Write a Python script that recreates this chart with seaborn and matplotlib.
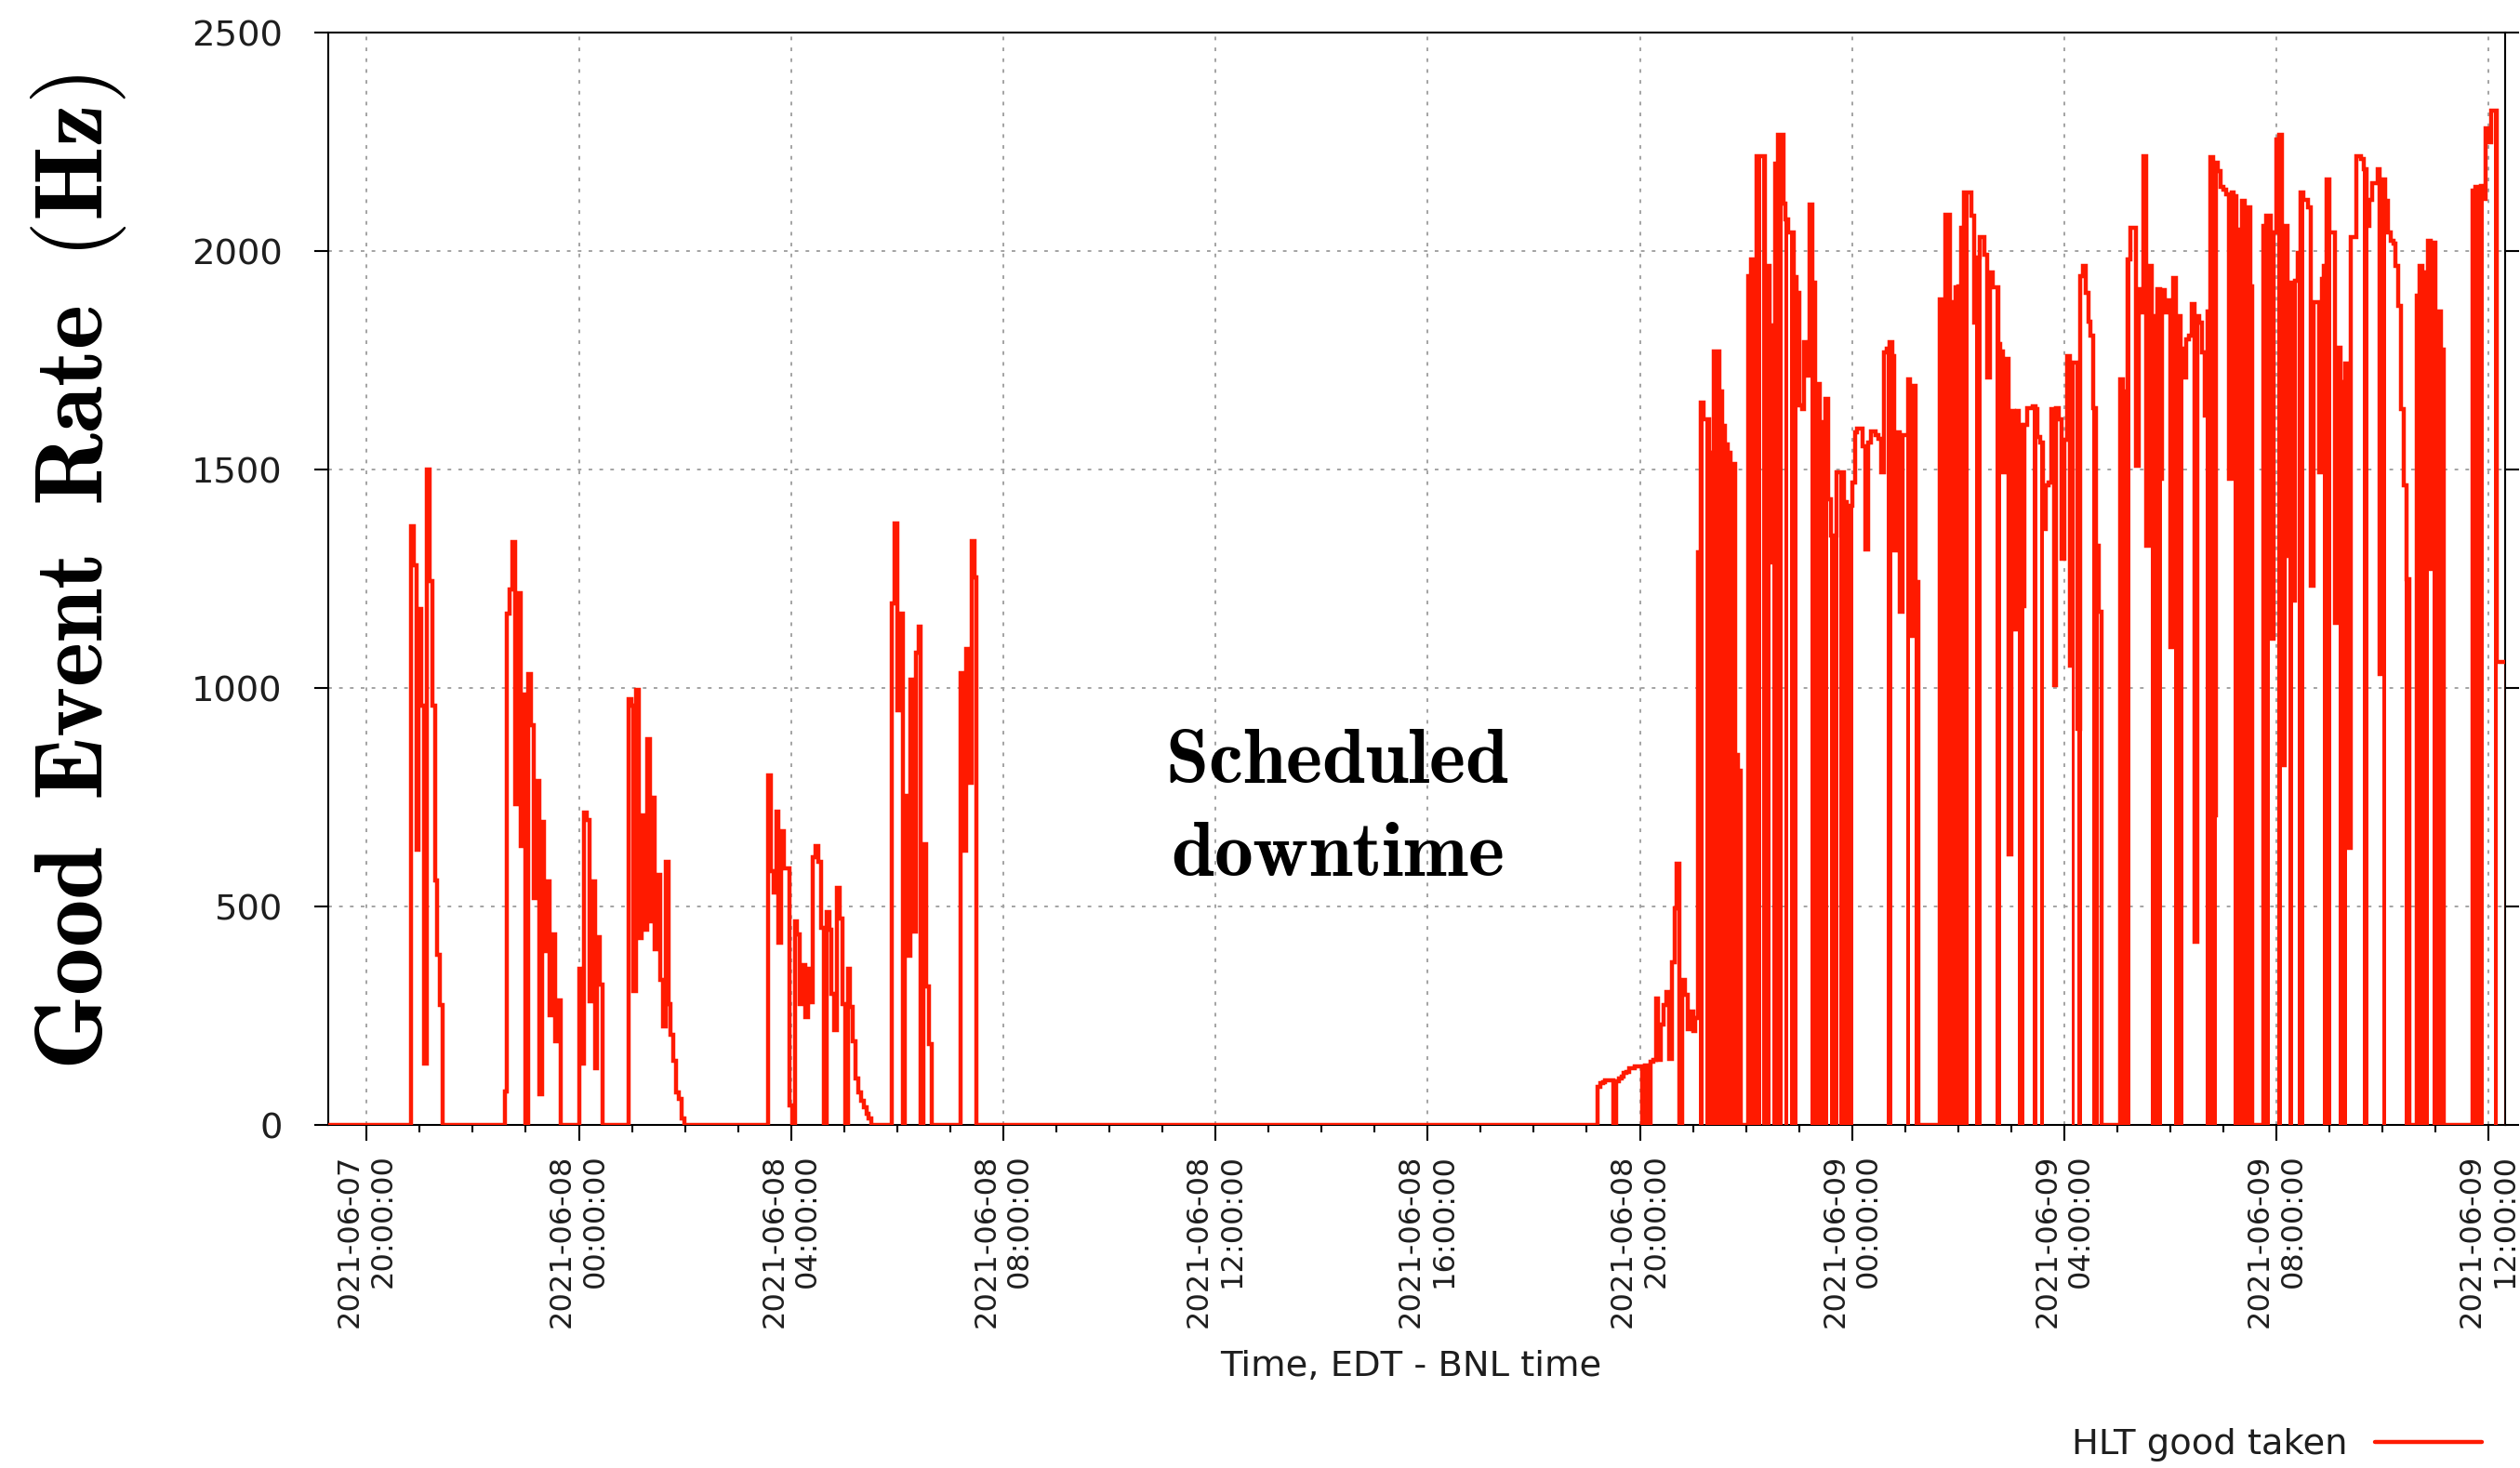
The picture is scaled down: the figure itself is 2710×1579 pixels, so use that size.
import numpy as np
import pandas as pd
import matplotlib
matplotlib.use("Agg")
import matplotlib.pyplot as plt
import matplotlib.dates as mdates
from matplotlib.lines import Line2D
import seaborn as sns

# ---------------------------------------------------------------------------
# HLT good-event rate (Hz), one value per 3-minute sample, grouped by run.
# Outside the listed runs the rate is zero.
# ---------------------------------------------------------------------------
SAMPLE_MINUTES = 3
view_start = "2021-06-07 19:16:34"
view_end = "2021-06-09 12:18:36"

# Night of 2021-06-07 / morning of 2021-06-08
burst_a_start = "2021-06-07 20:50"
burst_a_rate = [1370, 1280, 630, 1180, 960, 140, 1500, 1245, 960, 560, 390, 275]

burst_b_start = "2021-06-07 22:36"
burst_b_rate = [77, 1170, 1226, 1333, 733, 1217, 638, 985, 0, 1032, 914, 520,
                788, 70, 693, 397, 557, 251, 437, 191, 286]

burst_c_start = "2021-06-08 00:00"
burst_c_rate = [357, 141, 715, 698, 283, 557, 130, 429, 321]

burst_d_start = "2021-06-08 00:56"
burst_d_rate = [975, 960, 306, 995, 427, 708, 447, 884, 467, 748, 402, 573,
                332, 226, 603, 276, 206, 146, 75, 60, 15]

burst_e_start = "2021-06-08 03:34"
burst_e_rate = [801, 581, 532, 718, 417, 673, 588, 588, 45, 0, 467, 437, 276,
                367, 246, 357, 281, 613, 638, 603, 452, 0, 487, 447, 301, 216,
                543, 472, 276, 0, 357, 271, 191, 106, 75, 55, 40, 25, 15]

burst_f_start = "2021-06-08 05:54"
burst_f_rate = [1194, 1376, 949, 1170, 0, 754, 387, 1020, 442, 1080, 1141, 0,
                643, 316, 186]

burst_g_start = "2021-06-08 07:12"
burst_g_rate = [1035, 628, 1090, 784, 1336, 1254]

# After the scheduled downtime
run_1_start = "2021-06-08 19:12"
run_1_rate = [
    # 19:12 - 21:03  ramp-up
    88, 95, 97, 102, 102, 102, 0, 99, 107, 110, 119, 122, 130, 130, 133, 133,
    133, 0, 137, 0, 145, 148, 290, 150, 229, 274, 305, 152, 373, 495, 597, 0,
    332, 297, 220, 259, 215, 244,
    # 21:06 - 21:51
    1310, 1654, 1615, 1615, 1539, 1326, 1771, 1771, 1679, 1600, 1557, 1539,
    1513, 1513, 846, 810,
    # 21:54 - 22:00
    0, 0, 0,
    # 22:03 - 22:57
    1943, 1981, 1981, 2217, 2217, 2217, 1966, 1966, 1829, 1288, 2199, 2266,
    2266, 2108, 2073, 2042, 2042, 1940, 1905,
    # 23:00 - 23:57
    1646, 1638, 1791, 1714, 2106, 1928, 1696, 1696, 1608, 1608, 1661, 1432,
    1349, 1349, 1494, 1494, 1494, 1425, 1417, 1417,
    # 00:00 - 01:12
    1471, 1585, 1593, 1593, 1554, 1318, 1562, 1588, 1588, 1578, 1570, 1494,
    1768, 1776, 1791, 1760, 1314, 1585, 1174, 1578, 1578, 1707, 1120, 1692,
    1242,
]

run_2_start = "2021-06-09 01:39"
run_2_rate = [1890, 1890, 2083, 2083, 1882, 1879, 1916, 1920, 2053, 2134, 2134,
              2134, 2080, 1836, 1986, 2031, 2031, 1992, 1711, 1951, 1916, 1916,
              1788, 1771, 1494, 1753, 620, 1634, 1135, 1635, 1603, 1188, 1603,
              1641, 1641, 1644, 1638, 1574, 1562, 1364, 1463, 1471, 1638, 1006,
              1641, 1615, 1295, 1568, 1760, 1052, 1745, 1745, 907, 1943, 1966,
              1905, 1839, 1806, 1641, 1326, 1174]

run_3_start = "2021-06-09 05:03"
run_3_rate = [1707, 1679, 1679, 1981, 2053, 2053, 1509, 1913, 1859, 2217, 1326,
              1966, 1852, 1803, 1913, 1478, 1910, 1859, 1888, 1093, 1939, 1814,
              1852, 1776, 1711, 1798, 1806, 1879, 419, 1852, 1836, 1768, 1624,
              1862, 2214, 709, 2202, 2184, 2146, 2141, 2130, 1478, 2133, 2126,
              2050, 2004, 2114, 2099, 2099, 1920]

run_4_start = "2021-06-09 07:45"
run_4_rate = [2057, 2080, 2080, 1112, 2042, 2255, 2266, 823, 2057, 1303, 1928,
              1199, 1931, 1996, 2134, 2118, 2118, 2099, 1234, 1882, 1882, 1494,
              1936, 1966, 2164, 2042, 2042, 1150, 1778, 1699, 1696, 1742, 635,
              2031, 2031, 2217, 2217, 2210, 2188, 2057, 2118, 2156, 2156, 2187,
              1032, 2164, 2114, 2042, 2023, 2016, 1966, 1874, 1638, 1463, 1250]

run_5_start = "2021-06-09 10:39"
run_5_rate = [1898, 1966, 55, 1951, 2023, 1272, 2020, 1862, 1862, 1775]

run_6_start = "2021-06-09 11:42"
run_6_rate = [2138, 2146, 2146, 2150, 2120, 2281, 2250, 2321, 2321, 1059, 1059,
              1059, 1059]

# Periods where the rate flickers to zero between readings
flicker_start = [
    "2021-06-08 21:07", "2021-06-08 21:14", "2021-06-08 22:03", "2021-06-08 22:18",
    "2021-06-08 22:30", "2021-06-08 22:43", "2021-06-08 22:50", "2021-06-08 23:13",
    "2021-06-08 23:35", "2021-06-08 23:46", "2021-06-09 00:39", "2021-06-09 01:01",
    "2021-06-09 01:11", "2021-06-09 01:39", "2021-06-09 02:19", "2021-06-09 02:42",
    "2021-06-09 03:07", "2021-06-09 03:24", "2021-06-09 03:33", "2021-06-09 04:08",
    "2021-06-09 04:15", "2021-06-09 04:32", "2021-06-09 05:03", "2021-06-09 05:38",
    "2021-06-09 06:04", "2021-06-09 06:40", "2021-06-09 07:11", "2021-06-09 07:46",
    "2021-06-09 08:01", "2021-06-09 08:14", "2021-06-09 08:24", "2021-06-09 08:52",
    "2021-06-09 09:10", "2021-06-09 09:38", "2021-06-09 10:00", "2021-06-09 10:25",
    "2021-06-09 10:40", "2021-06-09 10:57", "2021-06-09 11:43", "2021-06-09 12:06",
]
flicker_end = [
    "2021-06-08 21:12", "2021-06-08 21:54", "2021-06-08 22:17", "2021-06-08 22:28",
    "2021-06-08 22:41", "2021-06-08 22:48", "2021-06-08 22:58", "2021-06-08 23:33",
    "2021-06-08 23:44", "2021-06-09 00:01", "2021-06-09 00:45", "2021-06-09 01:05",
    "2021-06-09 01:15", "2021-06-09 02:12", "2021-06-09 02:27", "2021-06-09 02:49",
    "2021-06-09 03:15", "2021-06-09 03:30", "2021-06-09 03:37", "2021-06-09 04:12",
    "2021-06-09 04:20", "2021-06-09 04:39", "2021-06-09 05:15", "2021-06-09 05:50",
    "2021-06-09 06:15", "2021-06-09 06:53", "2021-06-09 07:31", "2021-06-09 07:52",
    "2021-06-09 08:06", "2021-06-09 08:19", "2021-06-09 08:31", "2021-06-09 09:02",
    "2021-06-09 09:20", "2021-06-09 09:44", "2021-06-09 10:04", "2021-06-09 10:30",
    "2021-06-09 10:52", "2021-06-09 11:08", "2021-06-09 11:54", "2021-06-09 12:10",
]

y_ticks = [0, 500, 1000, 1500, 2000, 2500]
series_label = "HLT good taken"
x_title = "Time, EDT - BNL time"
y_title = r"$\mathbf{Good\;\;Event\;\;Rate\;\;(Hz)}$"
note_lines = [r"$\mathbf{Scheduled}$", r"$\mathbf{downtime}$"]

RED = "#ff1a00"

# ---------------------------------------------------------------------------
# Assemble one step series covering the whole window
# ---------------------------------------------------------------------------
runs = [
    (burst_a_start, burst_a_rate), (burst_b_start, burst_b_rate),
    (burst_c_start, burst_c_rate), (burst_d_start, burst_d_rate),
    (burst_e_start, burst_e_rate), (burst_f_start, burst_f_rate),
    (burst_g_start, burst_g_rate),
    (run_1_start, run_1_rate), (run_2_start, run_2_rate),
    (run_3_start, run_3_rate), (run_4_start, run_4_rate),
    (run_5_start, run_5_rate), (run_6_start, run_6_rate),
]
step = pd.Timedelta(minutes=SAMPLE_MINUTES)
times = [pd.Timestamp(view_start)]
values = [0]
for start, rates in runs:
    t0 = pd.Timestamp(start)
    for i, r in enumerate(rates):
        times.append(t0 + i * step)
        values.append(r)
    times.append(t0 + len(rates) * step)
    values.append(0)
if times[-1] < pd.Timestamp(view_end):
    times.append(pd.Timestamp(view_end))
    values.append(0)
df = pd.DataFrame({"time": pd.DatetimeIndex(times), "rate": values})
rate = pd.Series(values, index=pd.DatetimeIndex(times)).sort_index()

# ---------------------------------------------------------------------------
# Style
# ---------------------------------------------------------------------------
sns.set_theme(style="white")
plt.rcParams["font.family"] = ["DejaVu Sans"]
plt.rcParams["mathtext.fontset"] = "cm"
TEXT = "#1e1e1e"
LABEL_PT = 27.7
LINE_PT = 3.2

fig = plt.figure(figsize=(27.10, 15.79), dpi=100)
ax = fig.add_axes([0.13026, 0.23369, 0.86384, 0.74414])

sns.lineplot(data=df, x="time", y="rate", ax=ax, estimator=None, sort=False,
             drawstyle="steps-post", color=RED, linewidth=LINE_PT,
             legend=False, zorder=3)
for ln in ax.lines:
    ln.set_linewidth(LINE_PT)
    ln.set_solid_joinstyle("miter")

for a, b in zip(flicker_start, flicker_end):
    a, b = pd.Timestamp(a), pd.Timestamp(b)
    inner = rate[(rate.index > a) & (rate.index < b)]
    xs = [a, *inner.index, b]
    ys = [rate.asof(a), *inner.values]
    ys.append(ys[-1])
    ax.fill_between(pd.DatetimeIndex(xs).to_pydatetime(), 0, ys, step="post",
                    color=RED, linewidth=0, zorder=3)

ax.set_xlim(pd.Timestamp(view_start), pd.Timestamp(view_end))
ax.set_ylim(0, 2500)
ax.set_yticks(y_ticks)
ax.xaxis.set_major_locator(mdates.HourLocator(byhour=range(0, 24, 4)))
ax.xaxis.set_minor_locator(mdates.HourLocator())
ax.xaxis.set_major_formatter(mdates.DateFormatter("%Y-%m-%d\n%H:%M:%S"))

ax.grid(True, which="major", axis="both", color="#a3a3a3",
        linestyle=(0, (2, 4)), linewidth=1.4)
for s in ax.spines.values():
    s.set_visible(True)
    s.set_color("black")
    s.set_linewidth(1.5)

ax.tick_params(axis="x", which="major", bottom=True, top=False, direction="out",
               length=12.5, width=1.5, pad=10, labelsize=23, labelcolor=TEXT,
               color="black")
ax.tick_params(axis="x", which="minor", bottom=True, top=False, direction="out",
               length=6, width=1.5, color="black")
ax.tick_params(axis="y", which="major", left=True, right=True, direction="out",
               length=10.5, width=1.5, pad=25, labelsize=LABEL_PT,
               labelcolor=TEXT, color="black")
plt.setp(ax.get_xticklabels(), rotation=90, ha="center", va="top",
         multialignment="right")

ax.set_xlabel(x_title, fontsize=LABEL_PT, color=TEXT)
ax.xaxis.set_label_coords(0.4975, -0.206)
ax.set_ylabel(y_title, fontsize=74, color="black", va="center", ha="center")
ax.yaxis.set_label_coords(-0.1145, 0.5064)

fig.text(1438 / 2710, 1 - 819 / 1579, note_lines[0], fontsize=60,
         ha="center", va="center", color="black")
fig.text(1438 / 2710, 1 - 919 / 1579, note_lines[1], fontsize=60,
         ha="center", va="center", color="black")

handle = Line2D([], [], color=RED, linewidth=LINE_PT)
ax.legend([handle], [series_label], loc="center right",
          bbox_to_anchor=(2669 / 2710, 1 - 1554 / 1579),
          bbox_transform=fig.transFigure, frameon=False, markerfirst=False,
          handlelength=3.0, handletextpad=0.75, fontsize=LABEL_PT,
          borderpad=0, borderaxespad=0, labelcolor=TEXT)

fig.savefig("out.png", dpi=100)
